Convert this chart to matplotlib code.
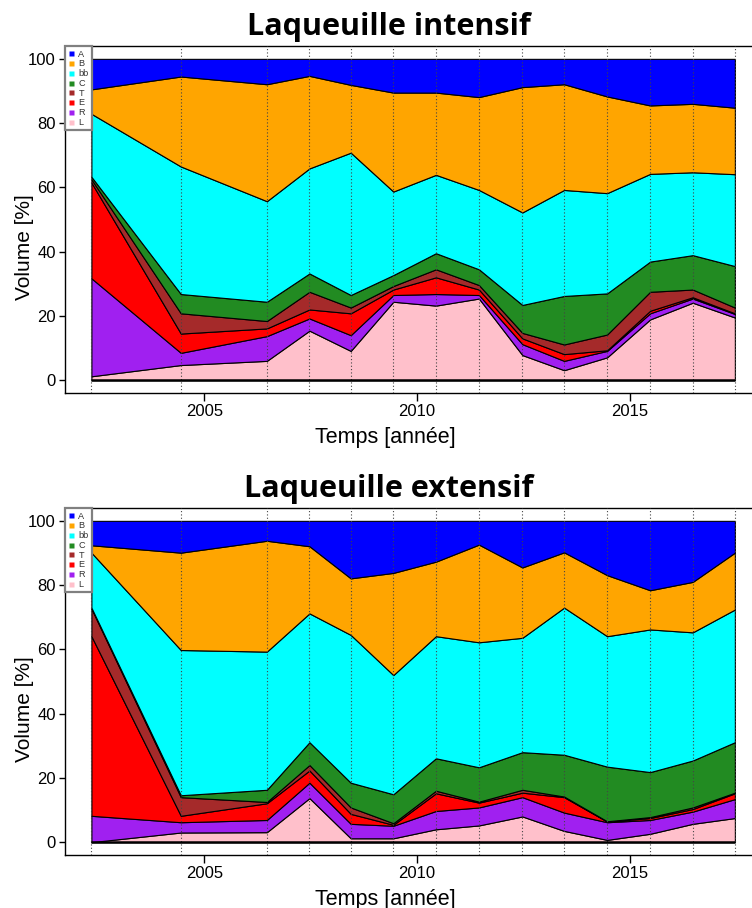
import matplotlib
matplotlib.use("Agg")
import matplotlib.pyplot as plt
from matplotlib.lines import Line2D

# sampling dates (decimal years), same for both plots
years = [2002.35, 2004.45, 2006.47, 2007.47, 2008.44, 2009.44, 2010.44,
         2011.45, 2012.47, 2013.45, 2014.46, 2015.47, 2016.47, 2017.46]

# stack order, bottom to top
groups = ["L", "R", "E", "T", "C", "bb", "B", "A"]
group_colors = {
    "L": "#FFC0CB",
    "R": "#A020F0",
    "E": "#FF0000",
    "T": "#A52A2A",
    "C": "#228B22",
    "bb": "#00FFFF",
    "B": "#FFA500",
    "A": "#0000FF",
}

# Laqueuille intensif, volume [%] per group
int_L = [1.2, 4.7, 6.0, 15.4, 9.1, 24.4, 23.2, 25.4, 7.8, 3.1, 7.1, 18.9, 24.1, 19.5]
int_R = [30.5, 3.8, 7.7, 3.8, 4.9, 2.1, 3.6, 1.1, 3.4, 2.9, 2.0, 1.9, 1.3, 1.1]
int_E = [29.8, 6.0, 2.4, 2.8, 6.8, 1.7, 5.2, 1.7, 1.8, 2.1, 0.2, 0.8, 0.4, 0.2]
int_T = [1.0, 6.3, 2.3, 5.5, 1.8, 1.1, 2.5, 1.4, 1.7, 3.0, 4.9, 5.9, 2.4, 1.8]
int_C = [0.8, 6.0, 6.0, 5.7, 3.9, 3.4, 5.0, 4.9, 8.7, 15.1, 12.8, 9.4, 10.7, 12.9]
int_bb = [19.6, 39.7, 31.3, 32.7, 44.3, 26.0, 24.4, 24.7, 28.8, 33.0, 31.2, 27.3, 25.8, 28.6]
int_B = [7.6, 28.0, 36.4, 28.8, 21.1, 30.8, 25.6, 28.9, 39.0, 32.9, 30.1, 21.3, 21.3, 20.7]
int_A = [9.5, 5.5, 7.9, 5.3, 8.1, 10.5, 10.5, 11.9, 8.8, 7.9, 11.7, 14.5, 14.0, 15.2]

# Laqueuille extensif
ext_L = [0.0, 3.0, 3.1, 13.7, 1.2, 1.2, 4.0, 5.2, 8.0, 3.5, 0.7, 2.6, 5.7, 7.5]
ext_R = [8.2, 3.2, 3.8, 4.8, 4.5, 3.9, 5.7, 5.6, 6.0, 5.7, 5.5, 4.3, 3.8, 5.9]
ext_E = [55.9, 2.0, 5.2, 3.8, 3.1, 0.3, 5.5, 1.5, 1.4, 4.8, 0.2, 0.6, 0.8, 1.8]
ext_T = [8.6, 5.8, 0.4, 1.7, 2.0, 0.5, 0.8, 0.3, 0.9, 0.2, 0.1, 0.3, 0.5, 0.2]
ext_C = [0.3, 0.6, 3.8, 7.1, 7.7, 9.0, 10.1, 10.7, 11.7, 13.0, 17.0, 14.0, 14.6, 15.7]
ext_bb = [17.1, 45.2, 43.0, 40.1, 46.0, 37.1, 38.0, 38.9, 35.6, 45.8, 40.6, 44.4, 39.9, 41.3]
ext_B = [2.3, 30.3, 34.5, 20.9, 17.6, 31.8, 23.2, 30.4, 21.9, 17.2, 19.0, 12.2, 15.7, 17.7]
ext_A = [7.6, 9.9, 6.2, 7.9, 17.9, 16.2, 12.7, 7.4, 14.5, 9.8, 16.9, 21.6, 19.0, 9.9]

intensif = [int_L, int_R, int_E, int_T, int_C, int_bb, int_B, int_A]
extensif = [ext_L, ext_R, ext_E, ext_T, ext_C, ext_bb, ext_B, ext_A]

W, H = 752, 908
fig = plt.figure(figsize=(W / 100, H / 100), dpi=100)
plt.rcParams['font.family'] = ['Liberation Sans', 'DejaVu Sans']


def add_ax(left, top, right, bottom):
    return fig.add_axes([left / W, 1 - bottom / H, (right - left) / W, (bottom - top) / H])


def draw_panel(ax, layers, title, top_px):
    ax.stackplot(years, layers, colors=[group_colors[g] for g in groups],
                 edgecolor='black', linewidth=0.8, zorder=2)
    ax.plot([years[0], years[-1]], [0, 0], color='black', lw=1.8, zorder=4,
            solid_capstyle='butt')
    for x in years:
        ax.axvline(x, color='#444444', linestyle=(0, (1, 2)), linewidth=0.8, zorder=3)

    ax.set_xlim(2001.73, 2018.05)
    ax.set_ylim(-4, 104)
    ax.set_xticks([2005, 2010, 2015])
    ax.set_yticks([0, 20, 40, 60, 80, 100])
    ax.tick_params(axis='x', direction='out', length=6, width=1, pad=2, labelsize=12)
    ax.tick_params(axis='y', direction='out', length=4.5, width=1, pad=2, labelsize=12)
    ax.spines['right'].set_visible(False)
    for s in ['left', 'bottom', 'top']:
        ax.spines[s].set_linewidth(1.0)

    handles = [Line2D([], [], marker='s', linestyle='none', markersize=3.6,
                      markerfacecolor=group_colors[g], markeredgecolor='none')
               for g in groups[::-1]]
    leg = ax.legend(handles, groups[::-1], loc='upper left', bbox_to_anchor=(0, 1),
                    borderaxespad=0, fontsize=6.6, frameon=True, fancybox=False,
                    handlelength=0.6, handletextpad=0.45, labelspacing=0.08,
                    borderpad=0.4, framealpha=1)
    leg.get_frame().set_edgecolor('#808080')
    leg.get_frame().set_linewidth(1.6)
    for t in leg.get_texts():
        t.set_color('#333333')

    fig.text(389 / W, 1 - (top_px - 11) / H, title, ha='center', va='baseline',
             fontsize=22, fontweight='bold', family=['Open Sans', 'DejaVu Sans'])
    fig.text(25 / W, 1 - (top_px + 201) / H, "Volume [%]", rotation=90,
             ha='center', va='center', fontsize=15)
    fig.text(385 / W, 1 - (top_px + 391) / H, "Temps [année]",
             ha='center', va='center', fontsize=15.5)


ax1 = add_ax(65, 46, 760, 393)
draw_panel(ax1, intensif, "Laqueuille intensif", 46)

ax2 = add_ax(65, 508, 760, 855)
draw_panel(ax2, extensif, "Laqueuille extensif", 508)

fig.savefig("out.png", dpi=100)
